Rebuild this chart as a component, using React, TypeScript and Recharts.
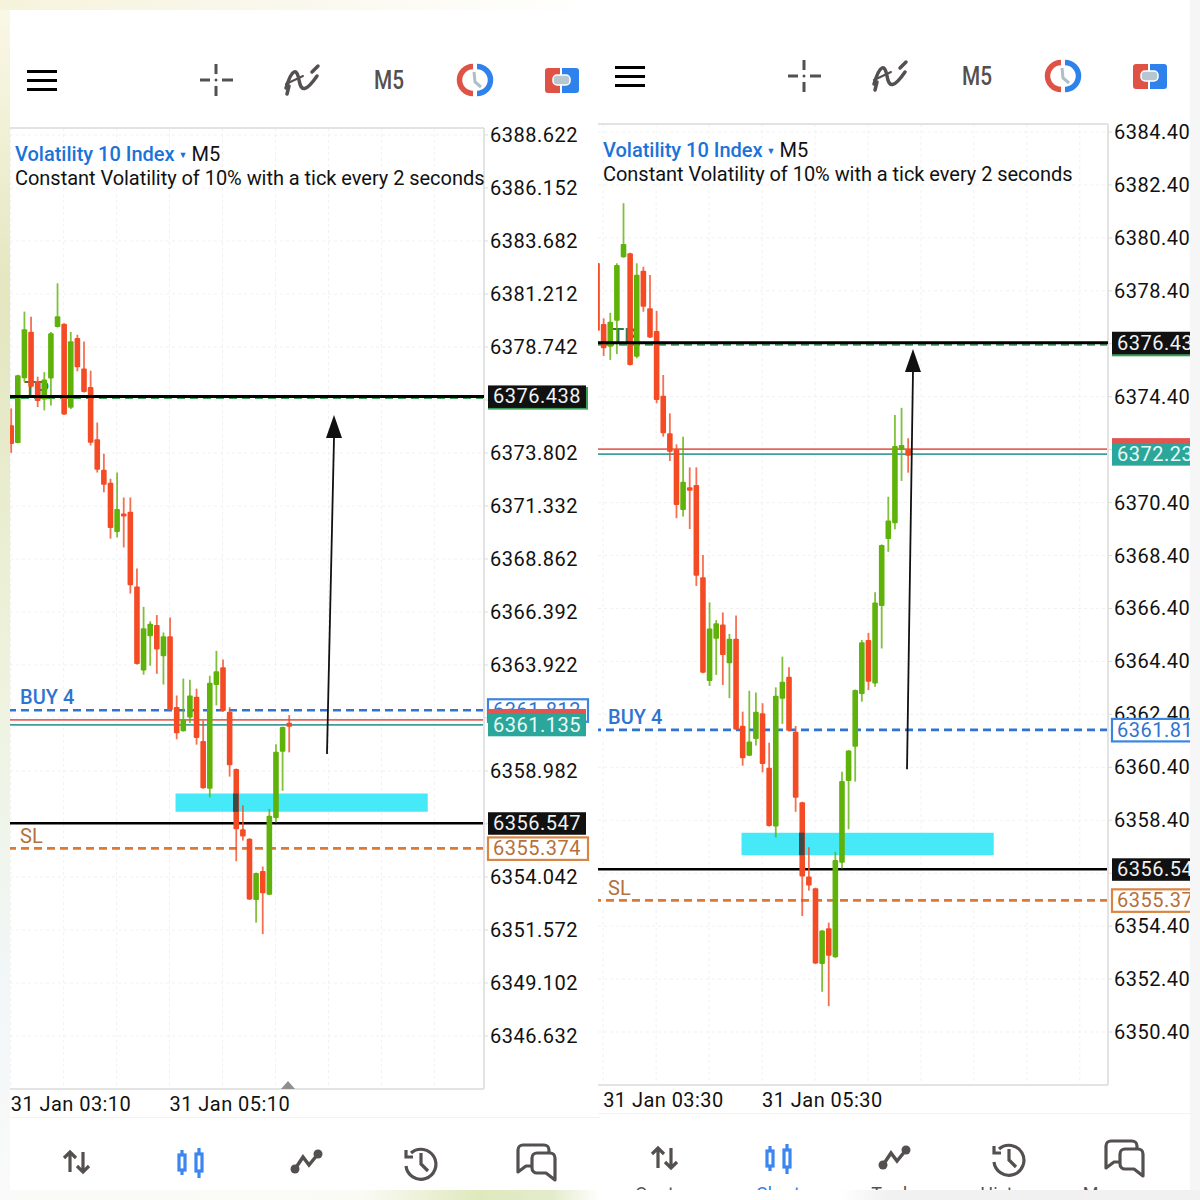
import { Bar, CartesianGrid, ComposedChart, ReferenceArea, ReferenceDot, ReferenceLine, XAxis, YAxis } from 'recharts'

const opens = [6375.10, 6374.27, 6377.28, 6379.45, 6377.15, 6376.29, 6377.27, 6379.67, 6379.82, 6375.91, 6379.16, 6377.74, 6376.88, 6374.44, 6373.02, 6372.41, 6370.12, 6370.98, 6371.06, 6367.58, 6363.66, 6365.26, 6365.79, 6364.33, 6365.26, 6361.97, 6360.84, 6361.47, 6362.44, 6360.38, 6358.16, 6362.99, 6363.82, 6361.74, 6359.08, 6356.27, 6355.83, 6352.97, 6354.32, 6353.22, 6356.79, 6359.88, 6361.18, 6363.17, 6365.21, 6363.57, 6366.49, 6369.02, 6369.62, 6372.39, 6372.41]
const highs = [6375.88, 6377.45, 6380.39, 6380.15, 6377.36, 6377.57, 6379.44, 6381.71, 6379.84, 6379.44, 6379.31, 6379.00, 6377.64, 6375.22, 6373.77, 6372.60, 6372.89, 6371.73, 6371.73, 6368.42, 6366.63, 6365.96, 6366.25, 6365.44, 6366.13, 6362.50, 6363.29, 6363.23, 6362.82, 6361.33, 6363.42, 6364.58, 6364.18, 6361.96, 6359.10, 6357.38, 6355.85, 6354.25, 6354.53, 6357.21, 6360.23, 6361.05, 6363.34, 6365.21, 6365.48, 6367.01, 6368.82, 6370.62, 6373.71, 6373.98, 6372.83]
const lows = [6373.81, 6374.25, 6377.12, 6376.85, 6375.94, 6375.79, 6376.01, 6379.65, 6375.58, 6375.85, 6377.61, 6376.62, 6374.15, 6372.89, 6371.97, 6369.81, 6369.87, 6369.40, 6367.25, 6363.95, 6363.47, 6363.89, 6363.51, 6363.01, 6361.81, 6360.46, 6360.82, 6361.22, 6360.21, 6358.16, 6357.75, 6362.04, 6361.76, 6358.72, 6354.78, 6355.74, 6352.97, 6351.92, 6351.38, 6353.20, 6356.58, 6358.06, 6359.86, 6362.88, 6363.32, 6363.44, 6364.89, 6368.54, 6369.39, 6371.22, 6371.53]
const closes = [6374.22, 6377.43, 6379.57, 6376.89, 6376.23, 6377.23, 6379.38, 6380.17, 6375.60, 6379.01, 6377.80, 6376.64, 6374.28, 6373.02, 6372.32, 6370.31, 6371.19, 6370.85, 6367.64, 6363.97, 6365.64, 6365.84, 6364.64, 6365.26, 6361.83, 6360.74, 6361.37, 6362.50, 6360.52, 6358.18, 6363.10, 6363.63, 6361.78, 6359.25, 6356.27, 6355.93, 6352.99, 6354.23, 6353.28, 6356.90, 6359.88, 6361.03, 6363.32, 6365.12, 6363.63, 6366.63, 6368.80, 6369.72, 6372.54, 6372.58, 6372.17]

// the left screenshot was taken while candle 42 was still forming
const leftLastCandle = [6361.23, 6361.59, 6359.85, 6361.04]

const leftPriceTicks = [6388.622, 6386.152, 6383.682, 6381.212, 6378.742, 6376.272, 6373.802, 6371.332, 6368.862, 6366.392, 6363.922, 6361.462, 6358.982, 6356.522, 6354.042, 6351.572, 6349.102, 6346.632]
const rightPriceTicks = [6384.4, 6382.4, 6380.4, 6378.4, 6376.4, 6374.4, 6372.4, 6370.4, 6368.4, 6366.4, 6364.4, 6362.4, 6360.4, 6358.4, 6356.4, 6354.4, 6352.4, 6350.4]
const leftTimeTicks = [0, 24]
const leftTimeLabels = ['31 Jan 03:10', '31 Jan 05:10']
const rightTimeTicks = [4, 28]
const rightTimeLabels = ['31 Jan 03:30', '31 Jan 05:30']
const leftGridX = [0, 8, 16, 24, 32, 40, 48, 56, 64]
const rightGridX = [4, 12, 20, 28, 36, 44, 52, 60, 68, 76]

const tpPrice = 6376.36
const closeLevel = 6376.438
const buyLevel = 6361.812
const stopLevel = 6355.374
const lowLevel = 6356.547
const leftAsk = 6361.36
const leftBid = 6361.135
const rightAsk = 6372.42
const rightBid = 6372.23
const zoneTop = 6357.93
const zoneBottom = 6357.08
const zoneStart = 24.9
const zoneEnd = 63
const zoneCandle = 34

const navLabels = ['Quotes', 'Chart', 'Trade', 'History', 'Messages']

const RED = '#f44b25'
const GREEN = '#5fb209'
const BLUE = '#2f74d0'
const ORANGE = '#dc7a35'
const FONT = 'Roboto, sans-serif'

function buildCandles() {
  return opens.map((open, i) => ({ idx: i, open, high: highs[i], low: lows[i], close: closes[i] }))
}

function Candle(props: any) {
  const { x, y, width, height, payload } = props
  const range = payload.high - payload.low
  const scale = range > 0 ? height / range : 0
  const top = y + (payload.high - Math.max(payload.open, payload.close)) * scale
  const bodyH = Math.max(Math.abs(payload.open - payload.close) * scale, 3)
  const color = payload.close >= payload.open ? GREEN : RED
  const cx = x + width / 2
  return (
    <g>
      <line x1={cx} x2={cx} y1={y} y2={y + height} stroke={color} strokeOpacity={0.8} strokeWidth={1.8} />
      <rect x={x} y={top} width={width} height={bodyH} rx={1} fill={color} />
    </g>
  )
}

function priceTag(tags: any[], digits: number) {
  return function PriceTick(props: any) {
    const { x, y, payload } = props
    const tag = tags.find((t) => t.value === payload.value)
    if (!tag) {
      return (
        <g>
          <line x1={x} x2={x + 4} y1={y} y2={y} stroke="#dddddd" />
          <text x={x + 6} y={y + 7} fontFamily={FONT} fontSize={20} letterSpacing={0.5} fill="#111111">
            {payload.value.toFixed(digits)}
          </text>
        </g>
      )
    }
    return (
      <g>
        <rect
          x={x + 4}
          y={y - 11}
          width={tag.outline ? 100 : 98}
          height={22.5}
          fill={tag.fill}
          stroke={tag.stroke}
          strokeWidth={tag.stroke === 'none' ? 0 : 2.2}
        />
        {tag.text && (
          <text x={x + 9} y={y + 7} fontFamily={FONT} fontSize={20} letterSpacing={0.5} fill={tag.color}>
            {tag.text}
          </text>
        )}
      </g>
    )
  }
}

function timeTick(labels: string[], ticks: number[]) {
  return function TimeTick(props: any) {
    const { x, y, payload } = props
    return (
      <text x={x} y={y + 22} fontFamily={FONT} fontSize={20} letterSpacing={0.45} fill="#111111" textAnchor="start">
        {labels[ticks.indexOf(payload.value)]}
      </text>
    )
  }
}

function textOnLine(value: string, color: string, dx: number, dy: number, weight: number) {
  return function LineText(props: any) {
    return (
      <text x={props.viewBox.x + dx} y={props.viewBox.y + dy} fontFamily={FONT} fontSize={20} fontWeight={weight} fill={color}>
        {value}
      </text>
    )
  }
}

function ArrowHead(props: any) {
  const { cx, cy } = props
  return <polygon points={`${cx - 8},${cy} ${cx + 8},${cy} ${cx},${cy - 23}`} fill="#111111" />
}

function CandlePane(props: any) {
  const { data, width, plotWidth, xDomain, yDomain, priceTicks, tags, digits, timeTicks, timeLabels, gridX, ask, bid, arrow } = props
  const yTicks = [...priceTicks, ...tags.map((t: any) => t.value)]
  return (
    <ComposedChart width={width} height={1030} data={data} margin={{ top: 28, right: 0, bottom: 0, left: 0 }}>
      <CartesianGrid stroke="#f1f1f1" strokeDasharray="3 3" horizontalValues={priceTicks} verticalValues={gridX} />
      <XAxis
        dataKey="idx"
        type="number"
        domain={xDomain}
        allowDataOverflow
        ticks={timeTicks}
        interval={0}
        height={41}
        tickLine={false}
        tickSize={0}
        tickMargin={0}
        axisLine={{ stroke: '#e3e3e3', strokeWidth: 2 }}
        tick={timeTick(timeLabels, timeTicks)}
      />
      <YAxis
        type="number"
        orientation="right"
        domain={yDomain}
        allowDataOverflow
        ticks={yTicks}
        interval={0}
        width={width - plotWidth}
        tickLine={false}
        tickSize={0}
        tickMargin={0}
        axisLine={{ stroke: '#e3e3e3', strokeWidth: 2 }}
        tick={priceTag(tags, digits)}
      />
      <ReferenceLine y={yDomain[1]} stroke="#e3e3e3" strokeWidth={2} zIndex={50} />
      <ReferenceArea x1={zoneStart} x2={zoneEnd} y1={zoneBottom} y2={zoneTop} fill="#45e9f7" fillOpacity={1} stroke="none" zIndex={60} />
      <ReferenceLine y={tpPrice} stroke="#3d9e57" strokeWidth={1.8} strokeDasharray="8 5" label={textOnLine('TP', '#2f7a4b', 14, -2, 500)} zIndex={70} />
      <ReferenceLine y={buyLevel} stroke={BLUE} strokeWidth={2.6} strokeDasharray="8 5" label={textOnLine('BUY 4', BLUE, 10, -6, 500)} zIndex={70} />
      <ReferenceLine y={stopLevel} stroke={ORANGE} strokeWidth={2.6} strokeDasharray="8 5" label={textOnLine('SL', '#b5703c', 10, -5, 400)} zIndex={70} />
      <ReferenceLine y={ask} stroke="#e2675c" strokeWidth={1.8} zIndex={70} />
      <ReferenceLine y={bid} stroke="#3f9e97" strokeWidth={1.8} zIndex={70} />
      <ReferenceLine y={lowLevel} stroke="#000000" strokeWidth={2.6} zIndex={70} />
      <Bar
        dataKey={(d: any) => [d.low, d.high]}
        barSize={5.6}
        isAnimationActive={false}
        shape={(p: any) => <Candle {...p} />}
      />
      <ReferenceArea x1={zoneCandle - 0.42} x2={zoneCandle + 0.42} y1={zoneBottom} y2={zoneTop} fill="#3f4a48" fillOpacity={1} stroke="none" zIndex={1100} />
      <ReferenceLine y={closeLevel} stroke="#000000" strokeWidth={3} zIndex={1100} />
      <ReferenceLine
        segment={[
          { x: arrow.x0, y: arrow.y0 },
          { x: arrow.x1, y: arrow.y1 },
        ]}
        stroke="#111111"
        strokeWidth={1.8}
        zIndex={1100}
      />
      <ReferenceDot x={arrow.x1} y={arrow.y1} r={8} shape={(p: any) => <ArrowHead {...p} />} zIndex={1100} />
    </ComposedChart>
  )
}

// toolbar + bottom navigation, drawn in the left screenshot's coordinates and shifted for the right one
function PhoneChrome({ dx, dy, showLabels }: { dx: number; dy: number; showLabels: boolean }) {
  const gray = '#555050'
  const navX = [76, 190, 306, 421, 536]
  return (
    <svg width={1200} height={1190} style={{ position: 'absolute', left: 0, top: 0 }}>
      <g transform={`translate(${dx},${dy})`}>
        <g fill="#000000">
          <rect x={27} y={70} width={30} height={3} />
          <rect x={27} y={79} width={30} height={3} />
          <rect x={27} y={88} width={30} height={3} />
        </g>
        <g stroke={gray} strokeWidth={3}>
          <line x1={200} x2={210} y1={80} y2={80} />
          <line x1={222} x2={233} y1={80} y2={80} />
          <line x1={216} x2={216} y1={64} y2={74} />
          <line x1={216} x2={216} y1={86} y2={96} />
        </g>
        <circle cx={216} cy={80} r={1.5} fill={gray} />
        <g stroke={gray} strokeWidth={3.5} fill="none" strokeLinecap="round">
          <path d="M286 88 C292 68, 297 68, 299 80 C301 92, 306 92, 317 76" />
          <line x1={289} x2={287} y1={86} y2={94} />
          <line x1={312} x2={318} y1={72} y2={66} />
          <line x1={286} x2={303} y1={84} y2={76} strokeWidth={2} />
        </g>
        <text x={389} y={89} textAnchor="middle" fontFamily="Roboto, sans-serif" fontSize={25} fontWeight={500} fill={gray} textLength={30} lengthAdjust="spacingAndGlyphs">
          M5
        </text>
        <path d="M473 66.5 A13.5 13.5 0 0 0 473 93.5" fill="none" stroke="#df5347" strokeWidth={5.5} />
        <path d="M477 66.5 A13.5 13.5 0 0 1 477 93.5" fill="none" stroke="#2f82ec" strokeWidth={5.5} />
        <path d="M474 72 L475 82 L481 87" fill="none" stroke="#aebfc7" strokeWidth={3} />
        <path d="M545 71 a3 3 0 0 1 3 -3 h12 v25 h-12 a3 3 0 0 1 -3 -3 z" fill="#df5347" />
        <path d="M562 68 h14 a3 3 0 0 1 3 3 v19 a3 3 0 0 1 -3 3 h-14 z" fill="#2f82ec" />
        <rect x={553} y={75} width={17} height={10} rx={4} fill="#b7c7cf" stroke="#ffffff" strokeWidth={1.5} />

        <g stroke={gray} strokeWidth={3.2} fill="none">
          <path d="M70 1172 V1152 M64 1158 L70 1152 L76 1158" />
          <path d="M83 1152 V1172 M77 1166 L83 1172 L89 1166" />
        </g>
        <g stroke="#3b86f0" strokeWidth={3.2} fill="none">
          <rect x={179} y={1155} width={6} height={15} />
          <line x1={182} x2={182} y1={1150} y2={1155} />
          <line x1={182} x2={182} y1={1170} y2={1175} />
          <rect x={196} y={1154} width={6} height={17} />
          <line x1={199} x2={199} y1={1148} y2={1154} />
          <line x1={199} x2={199} y1={1171} y2={1178} />
        </g>
        <path d="M295 1169 L303 1157 L309 1165 L318 1154" stroke={gray} strokeWidth={3.5} fill="none" />
        <circle cx={295} cy={1169} r={4.5} fill={gray} />
        <circle cx={318} cy={1154} r={4.5} fill={gray} />
        <g stroke={gray} strokeWidth={3.2} fill="none">
          <path d="M411 1153 A15 15 0 1 1 406 1166" />
          <path d="M406 1150 V1157 H413" />
          <path d="M421 1153 V1164 L428 1171" />
        </g>
        <g stroke={gray} strokeWidth={3.2} fill="none" strokeLinejoin="round">
          <path d="M549 1153 V1150 A5 5 0 0 0 544 1145 H523 A5 5 0 0 0 518 1150 V1172 L526 1166 H532" />
          <path d="M537 1153 H550 A5 5 0 0 1 555 1158 V1180 L546 1173 H537 A5 5 0 0 1 532 1168 V1158 A5 5 0 0 1 537 1153 Z" />
        </g>
        {showLabels &&
          navLabels.map((label, i) => (
            <text key={label} x={navX[i]} y={1204} textAnchor="middle" fontFamily={FONT} fontSize={18} fill={i === 1 ? '#2f82ec' : gray}>
              {label}
            </text>
          ))}
      </g>
    </svg>
  )
}

function Heading({ left, top }: { left: number; top: number }) {
  return (
    <div style={{ position: 'absolute', left, top, fontFamily: FONT, fontSize: 20, lineHeight: '24px', color: '#111111', whiteSpace: 'nowrap' }}>
      <div>
        <span style={{ color: '#1a73d8', fontWeight: 500 }}>Volatility 10 Index</span>
        <span style={{ color: '#1a73d8', fontSize: 9, margin: '0 4px', verticalAlign: 3 }}>▼</span>
        <span>M5</span>
      </div>
      <div style={{ letterSpacing: -0.04, marginTop: -1 }}>Constant Volatility of 10% with a tick every 2 seconds</div>
    </div>
  )
}

export default function App() {
  const candles = buildCandles()
  const [lo, lh, ll, lc] = leftLastCandle
  const leftData = [...candles.slice(0, 42), { idx: 42, open: lo, high: lh, low: ll, close: lc }]
  const rightData = candles.slice(3)

  const leftTags = [
    { value: tpPrice, fill: '#3d9e57', stroke: 'none', outline: true },
    { value: closeLevel, text: '6376.438', fill: '#111111', stroke: 'none', color: '#f2f2f2' },
    { value: buyLevel, text: '6361.812', fill: '#ffffff', stroke: '#3b86e0', color: '#2f74d0', outline: true },
    { value: leftAsk, fill: '#e0554f', stroke: 'none' },
    { value: leftBid, text: '6361.135', fill: '#2ba69a', stroke: 'none', color: '#eafaf7' },
    { value: lowLevel, text: '6356.547', fill: '#111111', stroke: 'none', color: '#f2f2f2' },
    { value: stopLevel, text: '6355.374', fill: '#ffffff', stroke: '#d98545', color: '#b5703c', outline: true },
  ]
  const rightTags = [
    { value: tpPrice, fill: '#3d9e57', stroke: 'none', outline: true },
    { value: closeLevel, text: '6376.438', fill: '#111111', stroke: 'none', color: '#f2f2f2' },
    { value: buyLevel, text: '6361.812', fill: '#ffffff', stroke: '#3b86e0', color: '#2f74d0', outline: true },
    { value: rightAsk, fill: '#e0554f', stroke: 'none' },
    { value: rightBid, text: '6372.23', fill: '#2ba69a', stroke: 'none', color: '#eafaf7' },
    { value: lowLevel, text: '6356.547', fill: '#111111', stroke: 'none', color: '#f2f2f2' },
    { value: stopLevel, text: '6355.374', fill: '#ffffff', stroke: '#d98545', color: '#b5703c', outline: true },
  ]

  return (
    <div style={{ position: 'absolute', left: 0, top: 0, width: 1200, height: 1200, overflow: 'hidden', background: '#ffffff' }}>
      {/* the soft backdrop the two screenshots were pasted on */}
      <div style={{ position: 'absolute', left: 0, top: 0, width: 10, height: 1200, background: 'linear-gradient(180deg,#fbf8e8 0%,#e3e6bf 25%,#eef2dc 55%,#f1f6f6 80%,#fafafa 100%)' }} />
      <div style={{ position: 'absolute', left: 0, top: 0, width: 600, height: 10, background: 'linear-gradient(90deg,#f6f3dc 0%,#f9f7ea 40%,#ffffff 100%)' }} />
      <div style={{ position: 'absolute', left: 1190, top: 0, width: 10, height: 1200, background: '#f6f6f6' }} />
      <div style={{ position: 'absolute', left: 0, top: 1190, width: 1200, height: 10, background: 'linear-gradient(90deg,#fafafa 0%,#fbfbf6 30%,#dfe8bd 40%,#e4ebcb 46%,#ffffff 50%,#ffffff 70%,#f1f1f1 74%,#f1f1f1 100%)' }} />
      <div style={{ position: 'absolute', left: 10, top: 1117, width: 590, height: 1, background: '#f3f3f3' }} />
      <div style={{ position: 'absolute', left: 598, top: 1113, width: 592, height: 1, background: '#f3f3f3' }} />

      <div style={{ position: 'absolute', left: 10, top: 100 }}>
        <CandlePane
          data={leftData}
          width={590}
          plotWidth={474}
          xDomain={[-0.106, 71.5]}
          yDomain={[6344.162, 6388.948]}
          priceTicks={leftPriceTicks}
          tags={leftTags}
          digits={3}
          timeTicks={leftTimeTicks}
          timeLabels={leftTimeLabels}
          gridX={leftGridX}
          ask={leftAsk}
          bid={leftBid}
          arrow={{ x0: 47.78, y0: 6359.77, x1: 48.84, y1: 6374.5 }}
        />
      </div>
      <div style={{ position: 'absolute', left: 598, top: 96, width: 592, height: 1030, overflow: 'hidden' }}>
        <CandlePane
          data={rightData}
          width={592}
          plotWidth={510}
          xDomain={[3.22, 80.26]}
          yDomain={[6348.398, 6384.702]}
          priceTicks={rightPriceTicks}
          tags={rightTags}
          digits={2}
          timeTicks={rightTimeTicks}
          timeLabels={rightTimeLabels}
          gridX={rightGridX}
          ask={rightAsk}
          bid={rightBid}
          arrow={{ x0: 49.9, y0: 6360.33, x1: 50.8, y1: 6375.33 }}
        />
      </div>

      <PhoneChrome dx={0} dy={0} showLabels={false} />
      <PhoneChrome dx={588} dy={-4} showLabels={true} />
      <Heading left={15} top={142} />
      <Heading left={603} top={138} />
      <svg width={20} height={10} style={{ position: 'absolute', left: 278, top: 1081 }}>
        <polygon points="10,0 17,8 3,8" fill="#8f8f8f" />
      </svg>
    </div>
  )
}
